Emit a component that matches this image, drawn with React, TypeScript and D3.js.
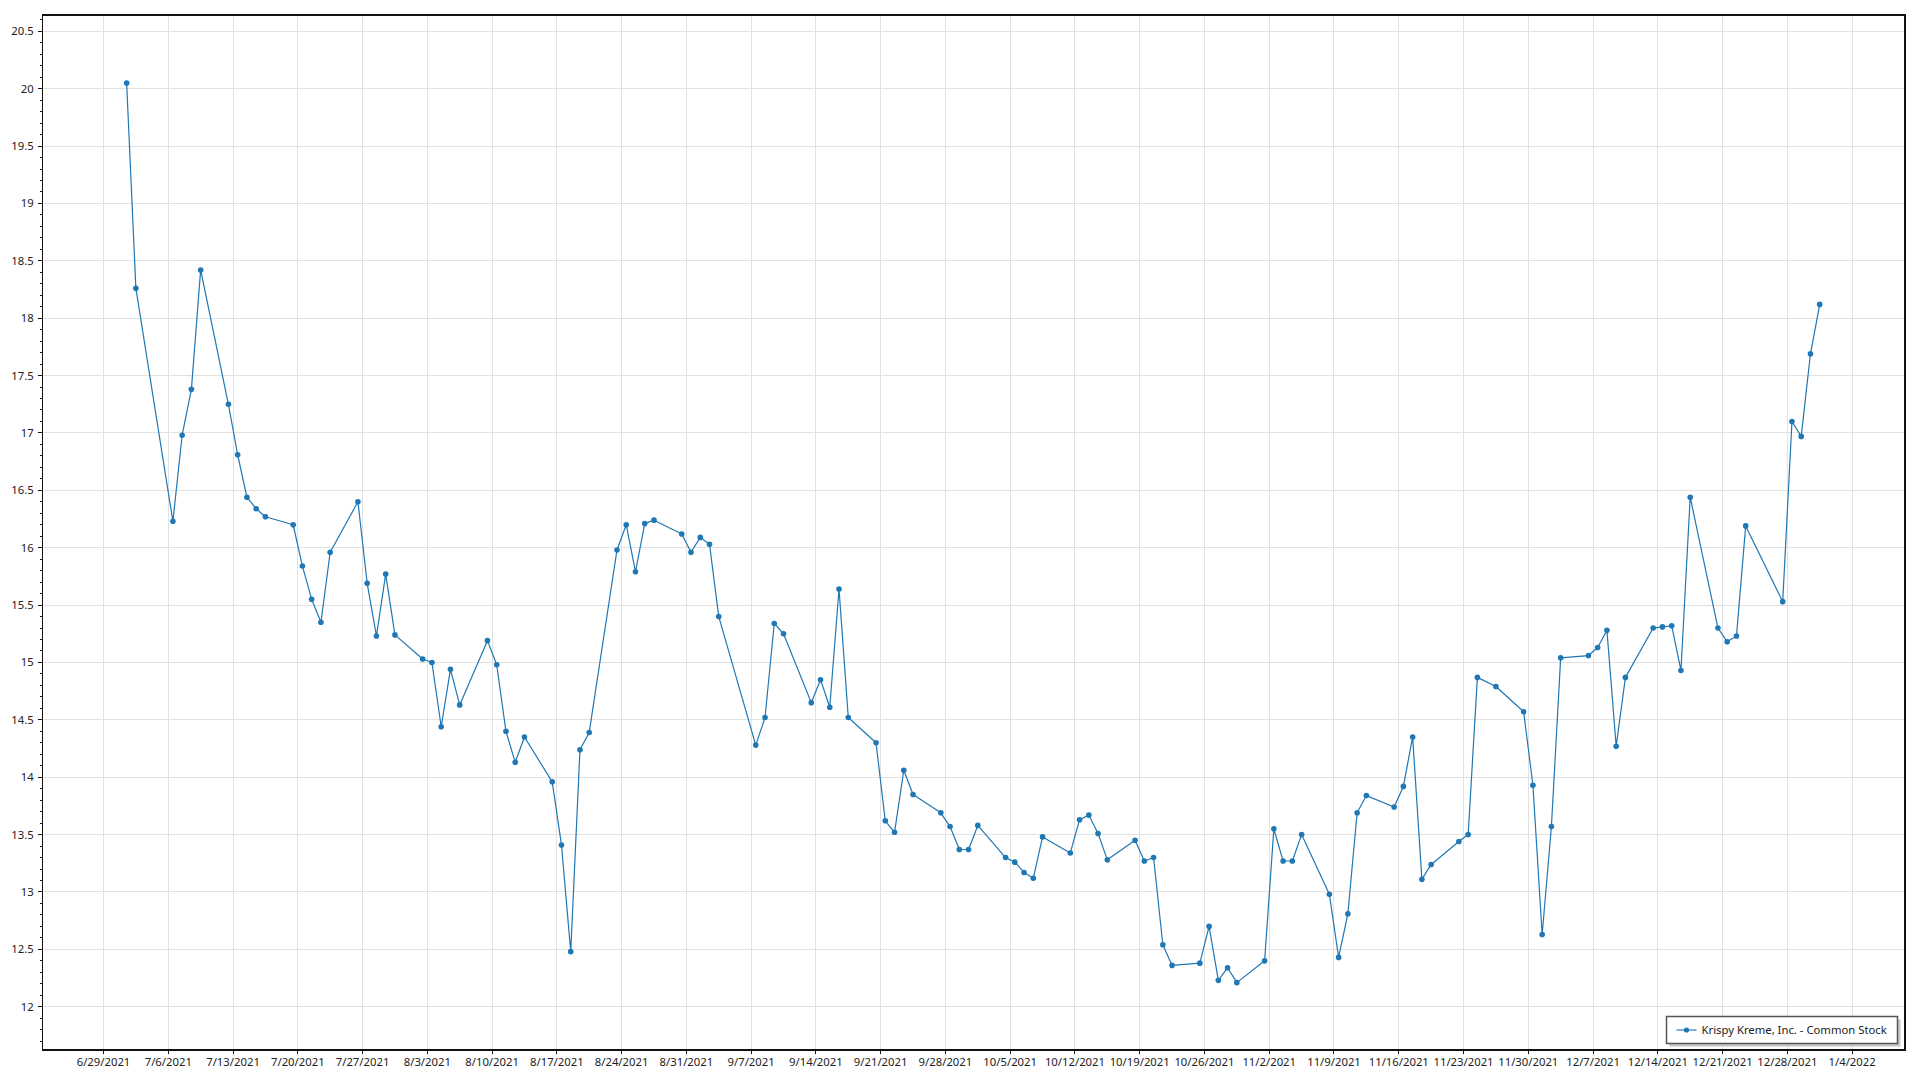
import React from 'react';
import * as d3 from 'd3';

const tradingDates: string[] = [
  '2021-07-01','2021-07-02','2021-07-06','2021-07-07','2021-07-08','2021-07-09',
  '2021-07-12','2021-07-13','2021-07-14','2021-07-15','2021-07-16',
  '2021-07-19','2021-07-20','2021-07-21','2021-07-22','2021-07-23',
  '2021-07-26','2021-07-27','2021-07-28','2021-07-29','2021-07-30',
  '2021-08-02','2021-08-03','2021-08-04','2021-08-05','2021-08-06',
  '2021-08-09','2021-08-10','2021-08-11','2021-08-12','2021-08-13',
  '2021-08-16','2021-08-17','2021-08-18','2021-08-19','2021-08-20',
  '2021-08-23','2021-08-24','2021-08-25','2021-08-26','2021-08-27',
  '2021-08-30','2021-08-31','2021-09-01','2021-09-02','2021-09-03',
  '2021-09-07','2021-09-08','2021-09-09','2021-09-10',
  '2021-09-13','2021-09-14','2021-09-15','2021-09-16','2021-09-17',
  '2021-09-20','2021-09-21','2021-09-22','2021-09-23','2021-09-24',
  '2021-09-27','2021-09-28','2021-09-29','2021-09-30','2021-10-01',
  '2021-10-04','2021-10-05','2021-10-06','2021-10-07','2021-10-08',
  '2021-10-11','2021-10-12','2021-10-13','2021-10-14','2021-10-15',
  '2021-10-18','2021-10-19','2021-10-20','2021-10-21','2021-10-22',
  '2021-10-25','2021-10-26','2021-10-27','2021-10-28','2021-10-29',
  '2021-11-01','2021-11-02','2021-11-03','2021-11-04','2021-11-05',
  '2021-11-08','2021-11-09','2021-11-10','2021-11-11','2021-11-12',
  '2021-11-15','2021-11-16','2021-11-17','2021-11-18','2021-11-19',
  '2021-11-22','2021-11-23','2021-11-24','2021-11-26',
  '2021-11-29','2021-11-30','2021-12-01','2021-12-02','2021-12-03',
  '2021-12-06','2021-12-07','2021-12-08','2021-12-09','2021-12-10',
  '2021-12-13','2021-12-14','2021-12-15','2021-12-16','2021-12-17',
  '2021-12-20','2021-12-21','2021-12-22','2021-12-23',
  '2021-12-27','2021-12-28','2021-12-29','2021-12-30','2021-12-31',
];

const closePrices: number[] = [
  20.05, 18.26, 16.23, 16.98, 17.38, 18.42,
  17.25, 16.81, 16.44, 16.34, 16.27,
  16.20, 15.84, 15.55, 15.35, 15.96,
  16.40, 15.69, 15.23, 15.77, 15.24,
  15.03, 15.00, 14.44, 14.94, 14.63,
  15.19, 14.98, 14.40, 14.13, 14.35,
  13.96, 13.41, 12.48, 14.24, 14.39,
  15.98, 16.20, 15.79, 16.21, 16.24,
  16.12, 15.96, 16.09, 16.03, 15.40,
  14.28, 14.52, 15.34, 15.25,
  14.65, 14.85, 14.61, 15.64, 14.52,
  14.30, 13.62, 13.52, 14.06, 13.85,
  13.69, 13.57, 13.37, 13.37, 13.58,
  13.30, 13.26, 13.17, 13.12, 13.48,
  13.34, 13.63, 13.67, 13.51, 13.28,
  13.45, 13.27, 13.30, 12.54, 12.36,
  12.38, 12.70, 12.23, 12.34, 12.21,
  12.40, 13.55, 13.27, 13.27, 13.50,
  12.98, 12.43, 12.81, 13.69, 13.84,
  13.74, 13.92, 14.35, 13.11, 13.24,
  13.44, 13.50, 14.87, 14.79,
  14.57, 13.93, 12.63, 13.57, 15.04,
  15.06, 15.13, 15.28, 14.27, 14.87,
  15.30, 15.31, 15.32, 14.93, 16.44,
  15.30, 15.18, 15.23, 16.19,
  15.53, 17.10, 16.97, 17.69, 18.12,
];

const xTickLabels: string[] = [
  '6/29/2021','7/6/2021','7/13/2021','7/20/2021','7/27/2021','8/3/2021','8/10/2021',
  '8/17/2021','8/24/2021','8/31/2021','9/7/2021','9/14/2021','9/21/2021','9/28/2021',
  '10/5/2021','10/12/2021','10/19/2021','10/26/2021','11/2/2021','11/9/2021',
  '11/16/2021','11/23/2021','11/30/2021','12/7/2021','12/14/2021','12/21/2021',
  '12/28/2021','1/4/2022',
];

const yTickValues: number[] = [12, 12.5, 13, 13.5, 14, 14.5, 15, 15.5, 16, 16.5, 17, 17.5, 18, 18.5, 19, 19.5, 20, 20.5];

const seriesName = 'Krispy Kreme, Inc. - Common Stock';

const W = 1920;
const H = 1080;
const left = 42.7;
const right = 1905;
const top = 15;
const bottom = 1050;
const FONT = '"Noto Sans", "Open Sans", sans-serif';
const FS = 11.3;
const LINE = '#1f77b4';
const GRID = '#e1e1e1';

const parseISO = d3.timeParse('%Y-%m-%d');
const parseTick = d3.timeParse('%m/%d/%Y');

export default function App() {
  const x = d3
    .scaleTime()
    .domain([new Date(2021, 5, 22, 10, 16), new Date(2022, 0, 9, 17, 14)])
    .range([left, right]);
  const y = d3.scaleLinear().domain([11.623, 20.642]).range([bottom, top]);

  const points = tradingDates.map((d, i) => ({
    date: d3.timeHour.offset(parseISO(d) as Date, 12),
    value: closePrices[i],
  }));

  const line = d3
    .line<{ date: Date; value: number }>()
    .x((d) => x(d.date))
    .y((d) => y(d.value));

  const xTicks = xTickLabels.map((l) => ({ label: l, date: parseTick(l) as Date }));
  const minorTicks = d3.range(117, 207).map((v) => v / 10).filter((v) => y(v) >= top && y(v) <= bottom);

  const legX = 1666.5;
  const legY = 1016.5;
  const legW = 231;
  const legH = 27;

  return (
    <svg
      width={W}
      height={H}
      style={{ position: 'absolute', left: 0, top: 0, display: 'block', background: '#fff' }}
      fontFamily={FONT}
    >
      <rect x={0} y={0} width={W} height={H} fill="#fff" />
      {/* grid */}
      <g shapeRendering="crispEdges">
        {yTickValues.map((v) => (
          <line key={'gy' + v} x1={left} x2={right} y1={y(v)} y2={y(v)} stroke={GRID} strokeWidth={1} />
        ))}
        {xTicks.map((t) => (
          <line key={'gx' + t.label} x1={x(t.date)} x2={x(t.date)} y1={top} y2={bottom} stroke={GRID} strokeWidth={1} />
        ))}
      </g>
      {/* series */}
      <path d={line(points) || ''} fill="none" stroke={LINE} strokeWidth={1.2} strokeLinejoin="round" />
      {points.map((p, i) => (
        <circle key={'p' + i} cx={x(p.date)} cy={y(p.value)} r={2.8} fill={LINE} />
      ))}
      {/* frame */}
      <rect x={left} y={top} width={right - left} height={bottom - top} fill="none" stroke="#111" strokeWidth={1.2} shapeRendering="crispEdges" />
      {/* axis ticks */}
      <g shapeRendering="crispEdges">
        {minorTicks.map((v) => (
          <line key={'my' + v} x1={left - 3} x2={left} y1={y(v)} y2={y(v)} stroke="#111" strokeWidth={1} />
        ))}
        {yTickValues.map((v) => (
          <line key={'ty' + v} x1={left - 5} x2={left} y1={y(v)} y2={y(v)} stroke="#111" strokeWidth={1} />
        ))}
        {xTicks.map((t) => (
          <line key={'tx' + t.label} x1={x(t.date)} x2={x(t.date)} y1={bottom} y2={bottom + 4} stroke="#111" strokeWidth={1} />
        ))}
      </g>
      {yTickValues.map((v) => (
        <text key={'ly' + v} x={left - 9} y={y(v)} dy="0.35em" textAnchor="end" fontSize={FS} fill="#222">
          {String(v)}
        </text>
      ))}
      {xTicks.map((t) => (
        <text key={'lx' + t.label} x={x(t.date)} y={1062.5} dy="0.35em" textAnchor="middle" fontSize={FS} fill="#222">
          {t.label}
        </text>
      ))}
      {/* legend */}
      <rect x={legX + 3} y={legY + 3} width={legW} height={legH} fill="#c8c8c8" />
      <rect x={legX} y={legY} width={legW} height={legH} fill="#fff" stroke="#555" strokeWidth={1.5} />
      <line x1={legX + 10} x2={legX + 30} y1={legY + 13.5} y2={legY + 13.5} stroke="#7fb0d8" strokeWidth={2} />
      <circle cx={legX + 20} cy={legY + 13.5} r={2.6} fill={LINE} />
      <text x={legX + 35} y={legY + 13.5} dy="0.35em" fontSize={FS} fill="#222">
        {seriesName}
      </text>
    </svg>
  );
}
